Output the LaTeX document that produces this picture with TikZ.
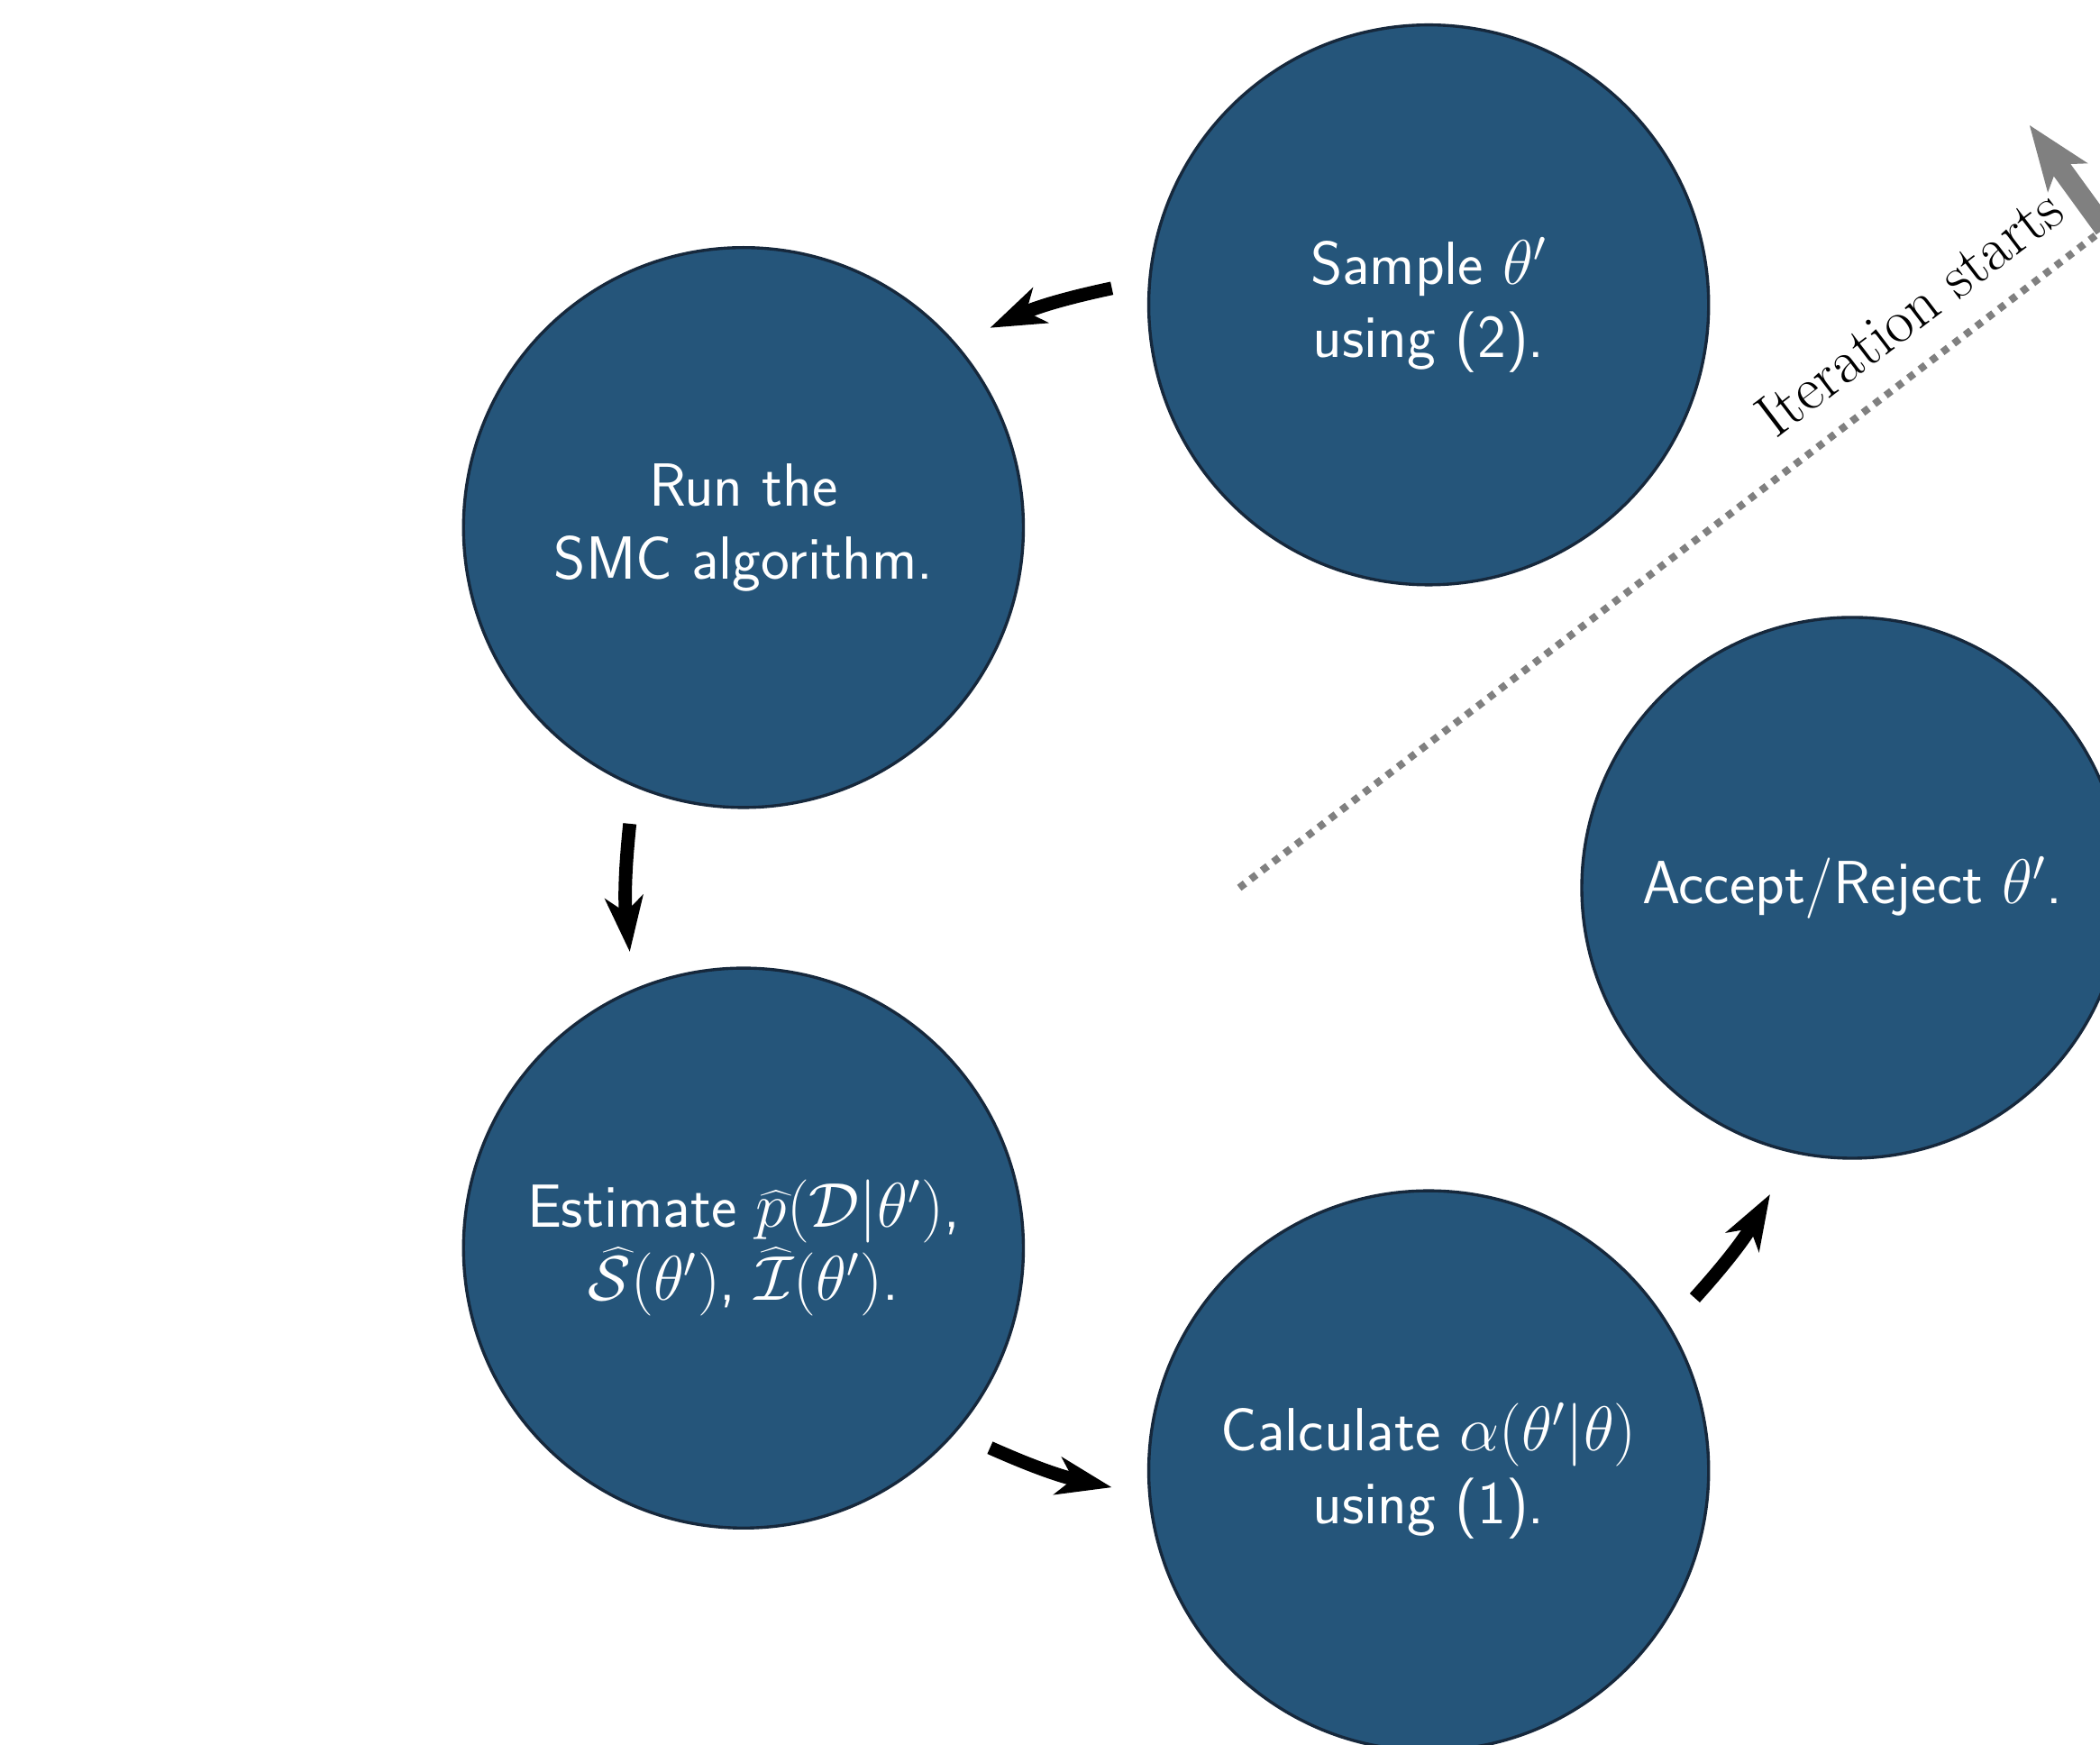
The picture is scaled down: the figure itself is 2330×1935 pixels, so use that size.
\documentclass[tikz,border=0pt]{standalone}
\usetikzlibrary{arrows.meta,calc}
\definecolor{stageblue}{RGB}{37,85,122}
\definecolor{stageedge}{RGB}{22,40,60}
\definecolor{entrygray}{RGB}{128,128,128}
\begin{document}
\begin{tikzpicture}[x=0.052mm,y=0.052mm,
  bigtext/.style={font=\fontsize{20}{24}\selectfont, scale=0.5},
  stage/.style={circle, fill=stageblue, draw=stageedge, line width=0.5pt,
    text=white, bigtext, font=\fontsize{20}{24}\selectfont\sffamily,
    align=center, inner sep=0pt, minimum size=64.6mm},
  flow/.style={line width=2.2pt, -{Stealth[length=9pt,width=6.2pt,inset=2.5pt]}},
  trail/.style={entrygray, line width=1.2pt, dash pattern=on 1.17pt off 1.17pt},
  entry/.style={entrygray, line width=3.4pt, -{Stealth[length=10.5pt,width=7.8pt,inset=2.5pt]}},
]
\useasboundingbox (0,0) rectangle (2330,1935);

% centre of the cycle
\coordinate (hub) at (1375,950);

% the five stages, on a pentagon around the hub
\node[stage, minimum size=62.4mm] (accept) at ($(hub)+(0:680)$) {Accept/Reject $\theta'$.};
\node[stage] (sample)   at ($(hub)+(72:680)$)  {Sample $\theta'$\\using (2).};
\node[stage] (run)      at ($(hub)+(144:680)$) {Run the\\SMC algorithm.};
\node[stage] (estimate) at ($(hub)+(216:680)$) {Estimate $\widehat{p}(\mathcal{D}|\theta')$,\\$\widehat{\mathcal{S}}(\theta')$, $\widehat{\mathcal{I}}(\theta')$.};
\node[stage] (calc)     at ($(hub)+(288:680)$) {Calculate $\alpha(\theta'|\theta)$\\using (1).};

% flow between the stages, along the circle through their centres
\draw[flow] ($(hub)!1!30:(sample)$)   to[bend right=6] ($(hub)!1!-30:(run)$);
\draw[flow] ($(hub)!1!30:(run)$)      to[bend right=6] ($(hub)!1!-30:(estimate)$);
\draw[flow] ($(hub)!1!30:(estimate)$) to[bend right=6] ($(hub)!1!-30:(calc)$);
\draw[flow] ($(hub)!1!30:(calc)$)     to[bend right=6] ($(hub)!1!-30:(accept)$);

% where the iteration enters the cycle
\coordinate (turn)  at ($(hub)+(37.3:1207)$);
\coordinate (start) at ($(turn)+(126:142)$);
\draw[trail] (hub) -- (turn);
\draw[entry] (turn) -- (start);
\node[bigtext, rotate=37.3, anchor=south, inner sep=10pt] at ($(hub)+(37.3:978)$) {Iteration starts};
\end{tikzpicture}
\end{document}
